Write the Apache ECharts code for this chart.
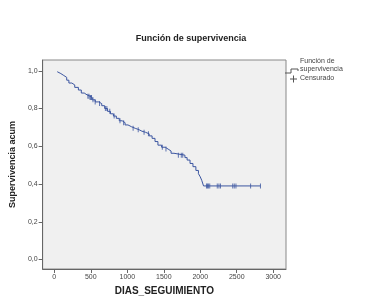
<!DOCTYPE html>
<html>
<head>
<meta charset="utf-8">
<script src="https://cdn.jsdelivr.net/npm/echarts@6/dist/echarts.min.js"></script>
<style>html,body{margin:0;padding:0;background:#fff}#c{width:382px;height:303px}</style>
</head>
<body>
<div id="c"></div>
<script>
// Kaplan-Meier step function: time of event, survival after event
var eventTimes = [40, 60, 90, 130, 170, 200, 240, 280, 330, 370, 410, 450, 490, 520, 560, 610, 650, 690, 730, 770, 810, 850, 890, 930, 970, 1010, 1060, 1110, 1160, 1200, 1250, 1300, 1340, 1380, 1420, 1470, 1520, 1560, 1600, 1640, 1790, 1820, 1860, 1900, 1940, 1975, 2000, 2020, 2045, 2825];
var survival = [0.995, 0.985, 0.975, 0.965, 0.950, 0.935, 0.925, 0.912, 0.898, 0.882, 0.872, 0.865, 0.858, 0.846, 0.835, 0.826, 0.815, 0.800, 0.785, 0.772, 0.760, 0.748, 0.735, 0.725, 0.713, 0.703, 0.695, 0.688, 0.680, 0.674, 0.666, 0.655, 0.642, 0.625, 0.606, 0.595, 0.585, 0.575, 0.563, 0.553, 0.540, 0.527, 0.509, 0.492, 0.472, 0.455, 0.438, 0.420, 0.390, 0.390];
var censoredTimes = [460, 475, 490, 500, 510, 530, 560, 620, 700, 720, 760, 820, 900, 950, 1080, 1150, 1230, 1290, 1480, 1530, 1700, 1740, 1760, 2085, 2099, 2112, 2130, 2233, 2256, 2277, 2445, 2466, 2489, 2690, 2825];
var xTicks = [0, 500, 1000, 1500, 2000, 2500, 3000];
var yTicks = [0, 0.2, 0.4, 0.6, 0.8, 1.0];

function survAt(t) {
  var s = 1;
  for (var i = 0; i < eventTimes.length; i++) { if (eventTimes[i] <= t) s = survival[i]; }
  return s;
}
var lineData = eventTimes.map(function (t, i) { return [t, survival[i]]; });
var censData = censoredTimes.map(function (t) { return [t, survAt(t)]; });

var chart = echarts.init(document.getElementById('c'));
var lineColor = '#3b55a0';
var font = 'Liberation Sans, Arial, sans-serif';
chart.setOption({
  animation: false,
  backgroundColor: '#fff',
  title: {
    text: 'Función de supervivencia', left: 'center', top: 29,
    textStyle: { fontSize: 9, fontWeight: 'bold', color: '#222', fontFamily: font }
  },
  grid: {
    left: 38, top: 60, right: 96, bottom: 34, show: true,
    backgroundColor: '#f0f0f0', borderColor: '#888', borderWidth: 1
  },
  xAxis: {
    type: 'value', min: -160, max: 3175,
    name: 'DIAS_SEGUIMIENTO', nameLocation: 'middle', nameGap: 14,
    nameTextStyle: { fontSize: 10, fontWeight: 'bold', color: '#222', fontFamily: font },
    splitLine: { show: false },
    axisLine: { show: true, onZero: false, lineStyle: { color: '#666' } },
    axisTick: { show: true, length: 4, lineStyle: { color: '#666' }, customValues: xTicks },
    axisLabel: { fontSize: 7, color: '#444', margin: 5, fontFamily: font, customValues: xTicks,
      formatter: function (v) { return String(v); } }
  },
  yAxis: {
    type: 'value', min: -0.05, max: 1.057,
    name: 'Supervivencia acum', nameLocation: 'middle', nameGap: 16,
    nameTextStyle: { fontSize: 9, fontWeight: 'bold', color: '#222', fontFamily: font },
    splitLine: { show: false },
    axisLine: { show: true, onZero: false, lineStyle: { color: '#666' } },
    axisTick: { show: true, length: 4, lineStyle: { color: '#666' }, customValues: yTicks },
    axisLabel: {
      fontSize: 7, color: '#444', margin: 5, fontFamily: font, customValues: yTicks,
      formatter: function (v) { return v.toFixed(1).replace('.', ','); }
    }
  },
  series: [
    {
      type: 'line', step: 'end', data: lineData, showSymbol: false, symbol: 'none',
      lineStyle: { color: lineColor, width: 1 }
    },
    {
      type: 'scatter', data: censData, symbol: 'rect', symbolSize: [1, 5],
      itemStyle: { color: lineColor }
    }
  ],
  graphic: [
    { type: 'polyline', shape: { points: [[285, 73], [291, 73], [291, 69], [298, 69], [298, 71]] },
      style: { stroke: '#555', lineWidth: 1, fill: null } },
    { type: 'text', left: 300, top: 57, style: { text: 'Función de\nsupervivencia', fontSize: 7, lineHeight: 8, fill: '#444', fontFamily: font } },
    { type: 'line', shape: { x1: 290, y1: 79, x2: 297, y2: 79 }, style: { stroke: '#555', lineWidth: 1 } },
    { type: 'line', shape: { x1: 293.5, y1: 75.5, x2: 293.5, y2: 82.5 }, style: { stroke: '#555', lineWidth: 1 } },
    { type: 'text', left: 300, top: 75, style: { text: 'Censurado', fontSize: 7, fill: '#444', fontFamily: font } }
  ]
});
</script>
</body>
</html>
